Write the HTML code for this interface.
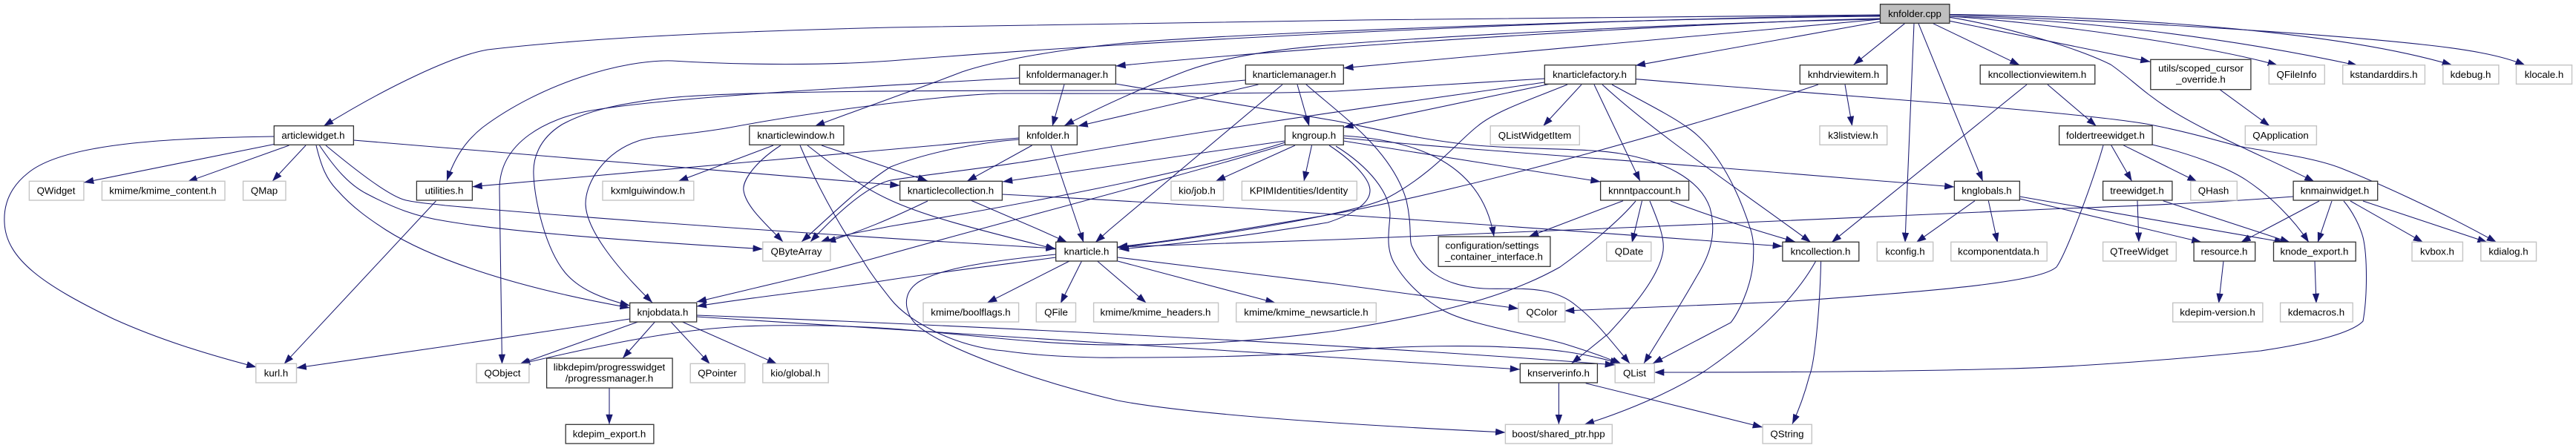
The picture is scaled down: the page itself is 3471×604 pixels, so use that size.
<!DOCTYPE html>
<html>
<head>
<meta charset="utf-8">
<style>
html,body{margin:0;padding:0;background:#fff}
svg{display:block}
.e path{fill:none;stroke:#191970;stroke-width:1.05;marker-end:url(#a)}
.b{fill:#fff;stroke:#333;stroke-width:1.3}
.g{fill:#fff;stroke:#c4c4c4;stroke-width:1.4}
.r{fill:#bfbfbf;stroke:#333;stroke-width:1.3}
text{font-family:"Liberation Sans",sans-serif;font-size:13.33px;text-anchor:middle;fill:#000}
</style>
</head>
<body>
<svg xmlns="http://www.w3.org/2000/svg" width="3471" height="604" viewBox="0 0 3471 604">
<defs><marker id="a" markerUnits="userSpaceOnUse" markerWidth="14" markerHeight="10" refX="13.3" refY="5" orient="auto"><path d="M0,0.3 L13.3,5 L0,9.7 z" fill="#191970"/></marker></defs>
<g class="e">
<!-- root left -->
<path d="M2533.5,20 C2300,21 1500,30 1200,37 C1000,42 800,50 657,67 C610,75 520,118 436,170"/>
<path d="M2533.5,21 C2200,24 1600,50 1200,82 C1120,88 1000,88 906,82 C840,80 730,112 650,172 C625,192 612,215 602,243.5"/>
<path d="M2533.5,22 C2200,25 1650,45 1506,59 C1420,68 1340,82 1296,97 C1250,115 1170,143 1098,170"/>
<path d="M2533.5,25 C2300,30 1800,60 1503.4,89"/>
<path d="M2533.5,26 C2300,30 1950,48 1800,60 C1720,66 1650,77 1600,95 C1560,110 1490,140 1434,169.5"/>
<path d="M2533.5,26 L1810.3,91.7"/>
<path d="M2533.5,29 L2203.7,88.3"/>
<!-- root bottom -->
<path d="M2566.5,31.7 L2497.6,87.3"/>
<path d="M2579,31.7 L2568,300 L2567,327"/>
<path d="M2585,31.7 L2671.7,244.3"/>
<path d="M2604.7,31.7 L2721.4,87.7"/>
<path d="M2627,28.3 L2897.5,83.3"/>
<!-- root right -->
<path d="M2627,22 C2750,30 2970,60 3069,88"/>
<path d="M2627,22 C2800,26 3000,50 3176.8,88.3"/>
<path d="M2627,19.5 C2800,21 3130,36 3304,87.7"/>
<path d="M2627,20 C2800,26 3100,42 3264,60 C3320,66 3370,74 3402.6,88"/>
<path d="M2627,23.3 C2700,35 2800,65 2844,87 C2870,105 2885,122 2920,145 C2970,178 3060,215 3118.5,245"/>
<!-- articlewidget -->
<path d="M369.3,184 C250,186 90,190 38,233 C10,255 5,280 6,300 C8,350 60,385 153,430 C215,458 280,478 345.5,495"/>
<path d="M369.3,194.5 L113,246"/>
<path d="M389.5,196 L252.6,245"/>
<path d="M412,196 L367,244.3"/>
<path d="M476.4,189 L1212.6,250"/>
<path d="M426,196 C433,225 440,242 455,257 C475,280 500,297 520,310 C575,345 680,385 848.7,415"/>
<path d="M430.5,196 C450,225 470,250 497.5,263 C530,280 560,292 600,298 C680,312 850,325 1027.8,335.7"/>
<path d="M439,196 C480,230 525,265 547,270 C565,274 585,275 600,277 C800,295 1100,316 1422.7,335"/>
<path d="M587.4,271 L382.7,490.7"/>
<!-- knfoldermanager -->
<path d="M1373.7,105 C1200,115 900,130 791,150 C740,160 673,190 673,255 L676.5,491"/>
<path d="M1434,114 L1418,170"/>
<path d="M1503,113 L1800,163 C1850,173 1930,192 2003,197 C2080,202 2140,200 2183,207 C2240,217 2290,240 2304,280 C2315,320 2300,350 2286,373 C2265,410 2240,450 2215,490"/>
<!-- knarticlemanager -->
<path d="M1678.3,108 C1620,113 1570,121 1506,122 C1300,122 1000,122 900,132 C830,140 790,150 757,168 C725,188 718,215 719,235 C720,270 735,335 761,367 C780,390 810,402 848.7,412"/>
<path d="M1695.5,114 L1452.5,170"/>
<path d="M1728,114 L1494.6,310 L1476,326.7"/>
<path d="M1748,114 L1764,170"/>
<path d="M1759,113 C1800,150 1875,200 1895,270 C1903,305 1898,325 1903,333 C1915,360 1940,385 1999,389 C2040,391 2090,382 2125,413 C2150,432 2175,465 2196,490"/>
<!-- knarticlefactory -->
<path d="M2081.3,106 C1980,112 1850,120 1800,123 C1700,127 1500,126 1353,126 C1280,127 1100,150 983,172 C920,183 880,183 860,190 C815,205 789,245 789,275 C790,310 830,360 879,408"/>
<path d="M2081,111 C1950,130 1650,170 1400,215 C1320,228 1250,235 1200,243 C1170,250 1130,285 1092,326"/>
<path d="M2087,113.5 L1810.3,171.7"/>
<path d="M2112,114 C2060,135 2015,150 1991,170 C1965,190 1930,235 1869,267 C1830,285 1700,310 1506,334"/>
<path d="M2131,114 L2079.3,170"/>
<path d="M2148,114 L2210,244.3"/>
<path d="M2159,114 C2230,180 2350,260 2440,326.7"/>
<path d="M2172,114 C2210,135 2250,155 2271,170 C2310,195 2340,250 2359,310 C2365,330 2362,345 2362.5,350 C2360,390 2340,425 2332,435 L2227,490"/>
<path d="M2204.5,106.7 C2450,127 2800,150 2897,168 C2950,178 3000,193 3016,197 C3070,207 3120,213 3155,227 C3200,245 3290,285 3364,326.7"/>
<!-- knarticlewindow -->
<path d="M1042,196 L914,244.3"/>
<path d="M1052,196 C1015,220 1000,245 1002,257 C1005,278 1030,300 1055,326"/>
<path d="M1078,196 C1105,260 1135,310 1162,350 C1175,372 1190,390 1200,403 C1225,435 1290,468 1353,473 C1400,480 1470,483 1517,482 C1620,482 1720,480 1800,473 C1900,465 1990,466 2030,468 C2090,470 2130,475 2183,490"/>
<path d="M1088,196 C1125,225 1160,252 1200,270 C1250,293 1320,310 1422.7,336"/>
<path d="M1107,196 L1250,244"/>
<!-- knfolder -->
<path d="M1373,186 L636.4,251.7"/>
<path d="M1373,188 C1320,192 1250,205 1200,225 C1160,250 1115,295 1080,326"/>
<path d="M1390.6,196 L1303,244.3"/>
<path d="M1416,196 L1454.5,310 L1460,326.7"/>
<!-- kngroup -->
<path d="M1731.5,190 L1351,245"/>
<path d="M1731.5,192 C1600,235 1350,280 1200,305 C1165,312 1135,316 1105,326.7"/>
<path d="M1731.5,195 C1600,235 1350,300 1200,342 C1120,365 1030,385 938.7,407"/>
<path d="M1745,196 L1638,244.3"/>
<path d="M1767.5,196 L1757,244.3"/>
<path d="M1791,196 C1820,215 1846,240 1846,257 C1846,275 1820,290 1789,300 C1700,315 1600,328 1508,336"/>
<path d="M1800,197 C1845,225 1873,260 1873,290 C1872,310 1866,335 1880,357 C1900,390 1930,410 1942,417 C1975,437 2060,450 2106,463 C2135,472 2165,482 2185,491"/>
<path d="M1810,183 C1890,188 1995,210 2013,319"/>
<path d="M1810,186 C1950,200 2250,220 2400,233 L2633.4,252"/>
<path d="M1810,190 L2156.6,245"/>
<!-- knarticlecollection -->
<path d="M1250,271 C1200,295 1160,312 1113,326.5"/>
<path d="M1308,270 L1401,310 L1438,326.7"/>
<path d="M1350.4,262 C1700,280 2100,310 2401.9,332"/>
<!-- knarticle -->
<path d="M1441,352 L1330,408.3"/>
<path d="M1457.5,352 L1429,409"/>
<path d="M1478.6,352 L1544.4,408.3"/>
<path d="M1506,352 L1718.5,408.3"/>
<path d="M1506,347 L1800,383 L2046,416"/>
<path d="M1422.7,343 C1350,350 1270,360 1238,380 C1215,395 1218,420 1234,437 C1270,470 1400,515 1506,540 C1600,558 1800,572 2028.4,583"/>
<path d="M1422.7,347 C1350,357 1280,365 1200,377 C1120,390 1030,398 938.7,413"/>
<!-- knjobdata -->
<path d="M848.7,430 L600,467 L399.5,496"/>
<path d="M859.4,434 L700,491"/>
<path d="M882.4,434 L839,483"/>
<path d="M904,434 L956.6,490.7"/>
<path d="M919.5,434 L1047,490.7"/>
<path d="M938.7,425 C1200,435 1800,462 2176,492"/>
<path d="M938.7,427 C1100,438 1500,463 1800,482 L2048,498"/>
<path d="M821,523 L821,572"/>
<!-- knnntpaccount -->
<path d="M2187,270.7 L2060,319"/>
<path d="M2204,271 C2180,300 2130,340 2102,360 C2040,395 1960,420 1800,446 C1680,462 1600,465 1506,465 C1400,465 1300,450 1200,443 C1130,438 1050,438 1000,440 C900,445 800,468 701,490.7"/>
<path d="M2212.5,270.7 L2199,327.3"/>
<path d="M2223,271 C2235,300 2245,325 2240,343 C2232,380 2190,425 2167,450 L2117.6,490"/>
<path d="M2251,271 C2300,290 2370,312 2419,326"/>
<!-- knserverinfo -->
<path d="M2100.4,516.7 L2100.4,572.3"/>
<path d="M2136.7,516.7 L2375,576"/>
<!-- knhdrviewitem -->
<path d="M2450,114 C2300,165 2000,250 1800,288 C1700,305 1600,322 1506,333"/>
<path d="M2486,114 L2495.7,170"/>
<!-- kncollectionviewitem -->
<path d="M2731,114 L2468,326.7"/>
<path d="M2759,114 L2824.7,170"/>
<!-- kncollection -->
<path d="M2446.7,352 C2420,400 2370,450 2297.5,500 C2250,530 2190,555 2134.8,572.3"/>
<path d="M2453.6,352 C2452,420 2445,490 2438,507 C2432,530 2425,550 2415,571.7"/>
<!-- foldertreewidget -->
<path d="M2834,196 C2820,245 2785,340 2771,360 C2750,378 2650,390 2400,407 L2108,419"/>
<path d="M2844.7,195.7 L2872.6,244.3"/>
<path d="M2861,195.7 L2960.6,245"/>
<path d="M2900,195 C2950,207 3000,225 3027,243 C3060,265 3090,295 3111,326.7"/>
<!-- knglobals -->
<path d="M2661,270.7 L2582,326.7"/>
<path d="M2679.3,270.7 L2691.6,327.3"/>
<path d="M2721.4,265 L3078,326.7"/>
<path d="M2721.4,268 L2966.5,326.5"/>
<!-- treewidget -->
<path d="M2880,270.7 L2882,326.7"/>
<path d="M2914.7,270.7 L3085.7,326.7"/>
<!-- utils, resource, export -->
<path d="M2991,120.7 L3058.4,170"/>
<path d="M2996,352 L2989.6,409"/>
<path d="M3119,352 L3121,409"/>
<!-- knmainwidget -->
<path d="M3090,265 C3000,272 2900,277 2783,281 C2600,288 2100,312 1800,323 L1506,333"/>
<path d="M3125,271 L3019.4,326.7"/>
<path d="M3142,271 L3123,326.7"/>
<path d="M3158,271 C3170,285 3180,305 3184,320 C3190,345 3190,400 3184,433 C3170,448 3120,462 3046,473 C2950,483 2800,495 2706,497 C2600,500 2450,502 2229,502"/>
<path d="M3167,271 L3265,326.7"/>
<path d="M3184,271 L3351.6,326.7"/>
</g>

<!-- nodes -->
<rect class="r" x="2533.5" y="5.7" width="93.4" height="25.6"/><text x="2580" y="23">knfolder.cpp</text>

<rect class="b" x="1373.7" y="87.7" width="129.7" height="25.6"/><text x="1438" y="105">knfoldermanager.h</text>
<rect class="b" x="1678.3" y="87.7" width="132" height="25.6"/><text x="1744" y="105">knarticlemanager.h</text>
<rect class="b" x="2081.3" y="87.7" width="122.8" height="25.6"/><text x="2142" y="105">knarticlefactory.h</text>
<rect class="b" x="2425.3" y="87.7" width="117.4" height="25.6"/><text x="2484" y="105">knhdrviewitem.h</text>
<rect class="b" x="2668.2" y="87.7" width="154.6" height="25.6"/><text x="2745" y="105">kncollectionviewitem.h</text>
<rect class="b" x="2897.8" y="80.3" width="135.1" height="40.4"/><text x="2965.5" y="96.7">utils/scoped_cursor</text><text x="2965.5" y="111.5">_override.h</text>
<rect class="g" x="3057.3" y="87.7" width="75" height="25.6"/><text x="3094.5" y="105">QFileInfo</text>
<rect class="g" x="3156.7" y="87.7" width="110.7" height="25.6"/><text x="3212" y="105">kstandarddirs.h</text>
<rect class="g" x="3291.8" y="87.7" width="75.1" height="25.6"/><text x="3329" y="105">kdebug.h</text>
<rect class="g" x="3390.5" y="87.7" width="75" height="25.6"/><text x="3428" y="105">klocale.h</text>

<rect class="b" x="369.3" y="169.7" width="107.1" height="25.6"/><text x="422" y="187">articlewidget.h</text>
<rect class="b" x="1009.8" y="169.7" width="127.1" height="25.6"/><text x="1072.5" y="187">knarticlewindow.h</text>
<rect class="b" x="1373" y="169.7" width="78.4" height="25.6"/><text x="1412" y="187">knfolder.h</text>
<rect class="b" x="1731.5" y="169.7" width="78.8" height="25.6"/><text x="1770.5" y="187">kngroup.h</text>
<rect class="g" x="2008.2" y="169.7" width="120.1" height="25.6"/><text x="2068" y="187">QListWidgetItem</text>
<rect class="g" x="2452" y="169.7" width="90.7" height="25.6"/><text x="2497" y="187">k3listview.h</text>
<rect class="b" x="2774.6" y="169.7" width="125.5" height="25.6"/><text x="2837" y="187">foldertreewidget.h</text>
<rect class="g" x="3025.3" y="169.7" width="96.1" height="25.6"/><text x="3073" y="187">QApplication</text>

<rect class="g" x="39.4" y="244.3" width="73.5" height="25.7"/><text x="75.5" y="261.5">QWidget</text>
<rect class="g" x="137.4" y="244.3" width="165.6" height="25.7"/><text x="219.5" y="261.5">kmime/kmime_content.h</text>
<rect class="g" x="327.6" y="244.3" width="57.4" height="25.7"/><text x="356" y="261.5">QMap</text>
<rect class="b" x="561.4" y="244.3" width="75" height="25.7"/><text x="598.5" y="261.5">utilities.h</text>
<rect class="g" x="812" y="244.3" width="122.8" height="25.7"/><text x="873" y="261.5">kxmlguiwindow.h</text>
<rect class="b" x="1212.6" y="244.3" width="137.8" height="25.7"/><text x="1281" y="261.5">knarticlecollection.h</text>
<rect class="g" x="1578" y="244.3" width="70.5" height="25.7"/><text x="1613" y="261.5">kio/job.h</text>
<rect class="g" x="1673.4" y="244.3" width="154.9" height="25.7"/><text x="1750" y="261.5">KPIMIdentities/Identity</text>
<rect class="b" x="2156.6" y="244.3" width="119" height="25.7"/><text x="2216" y="261.5">knnntpaccount.h</text>
<rect class="b" x="2633.4" y="244.3" width="88" height="25.7"/><text x="2677" y="261.5">knglobals.h</text>
<rect class="b" x="2833.6" y="244.3" width="93.3" height="25.7"/><text x="2879.5" y="261.5">treewidget.h</text>
<rect class="g" x="2951.8" y="244.3" width="62.5" height="25.7"/><text x="2982.5" y="261.5">QHash</text>
<rect class="b" x="3090.1" y="244.3" width="113.6" height="25.7"/><text x="3146" y="261.5">knmainwidget.h</text>

<rect class="g" x="1027.8" y="326.3" width="91.1" height="25.7"/><text x="1073" y="343.5">QByteArray</text>
<rect class="b" x="1422.7" y="326.3" width="82.7" height="25.7"/><text x="1464" y="343.5">knarticle.h</text>
<rect class="b" x="1938.1" y="319" width="150.8" height="40.3"/><text x="2010.5" y="335.5">configuration/settings</text><text x="2013" y="350.5">_container_interface.h</text>
<rect class="g" x="2164.7" y="326.3" width="60.1" height="25.7"/><text x="2195" y="343.5">QDate</text>
<rect class="b" x="2401.9" y="326.3" width="102.9" height="25.7"/><text x="2453" y="343.5">kncollection.h</text>
<rect class="g" x="2529.3" y="326.3" width="75.4" height="25.7"/><text x="2567" y="343.5">kconfig.h</text>
<rect class="g" x="2628.8" y="326.3" width="129.4" height="25.7"/><text x="2693" y="343.5">kcomponentdata.h</text>
<rect class="g" x="2833.6" y="326.3" width="98.7" height="25.7"/><text x="2882.5" y="343.5">QTreeWidget</text>
<rect class="b" x="2956.1" y="326.3" width="82.6" height="25.7"/><text x="2997" y="343.5">resource.h</text>
<rect class="b" x="3063.5" y="326.3" width="110.7" height="25.7"/><text x="3118.5" y="343.5">knode_export.h</text>
<rect class="g" x="3250" y="326.3" width="68.4" height="25.7"/><text x="3284" y="343.5">kvbox.h</text>
<rect class="g" x="3342.8" y="326.3" width="74.7" height="25.7"/><text x="3380" y="343.5">kdialog.h</text>

<rect class="b" x="848.7" y="408.3" width="90" height="25.7"/><text x="893" y="425.5">knjobdata.h</text>
<rect class="g" x="1244" y="408.3" width="128.6" height="25.7"/><text x="1308" y="425.5">kmime/boolflags.h</text>
<rect class="g" x="1396.3" y="408.3" width="53.2" height="25.7"/><text x="1423" y="425.5">QFile</text>
<rect class="g" x="1473.6" y="408.3" width="168" height="25.7"/><text x="1557" y="425.5">kmime/kmime_headers.h</text>
<rect class="g" x="1665.7" y="408.3" width="188.6" height="25.7"/><text x="1760" y="425.5">kmime/kmime_newsarticle.h</text>
<rect class="g" x="2046" y="408.3" width="62.8" height="25.7"/><text x="2077.5" y="425.5">QColor</text>
<rect class="g" x="2927.7" y="408.3" width="121.2" height="25.7"/><text x="2988" y="425.5">kdepim-version.h</text>
<rect class="g" x="3072.6" y="408.3" width="97.6" height="25.7"/><text x="3121" y="425.5">kdemacros.h</text>

<rect class="g" x="344.8" y="490.3" width="54.7" height="25.7"/><text x="372" y="507.5">kurl.h</text>
<rect class="g" x="642" y="490.3" width="70.9" height="25.7"/><text x="677" y="507.5">QObject</text>
<rect class="b" x="736.6" y="483" width="169.5" height="40"/><text x="821" y="499.5">libkdepim/progresswidget</text><text x="821" y="514.5">/progressmanager.h</text>
<rect class="g" x="930.2" y="490.3" width="73.5" height="25.7"/><text x="966.5" y="507.5">QPointer</text>
<rect class="g" x="1027.8" y="490.3" width="88.4" height="25.7"/><text x="1072" y="507.5">kio/global.h</text>
<rect class="b" x="2048.3" y="490.3" width="104.1" height="25.7"/><text x="2100" y="507.5">knserverinfo.h</text>
<rect class="g" x="2176.2" y="490.3" width="53.1" height="25.7"/><text x="2202.5" y="507.5">QList</text>

<rect class="b" x="762.2" y="572.3" width="118.7" height="25.7"/><text x="821" y="589.5">kdepim_export.h</text>
<rect class="g" x="2028.4" y="572.3" width="143.9" height="25.7"/><text x="2100" y="589.5">boost/shared_ptr.hpp</text>
<rect class="g" x="2375.1" y="572.3" width="66.2" height="25.7"/><text x="2408" y="589.5">QString</text>
</svg>
</body>
</html>
